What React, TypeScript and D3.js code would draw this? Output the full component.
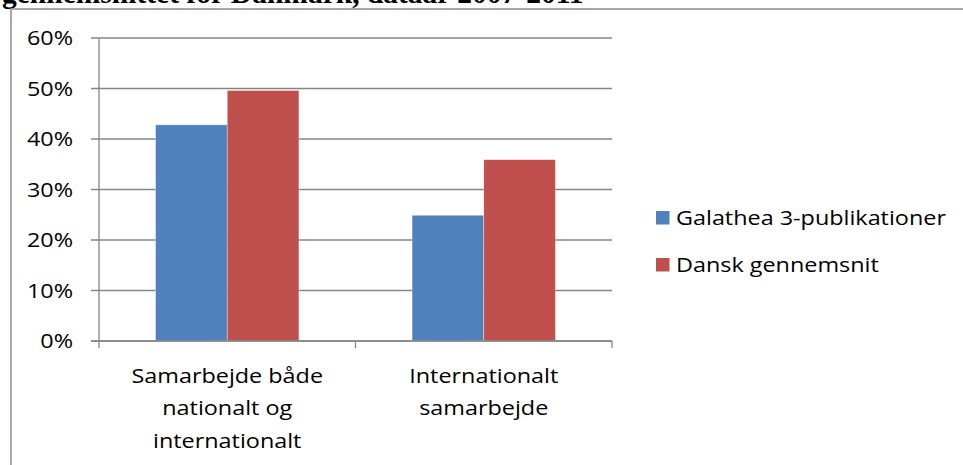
import { useEffect, useRef } from "react";
import * as d3 from "d3";

const WIDTH = 963;
const HEIGHT = 465;
const MARGIN = { top: 38, right: 351, bottom: 124, left: 99 };

const categories = [
  ["Samarbejde både", "nationalt og", "internationalt"],
  ["Internationalt", "samarbejde"],
];
const seriesNames = ["Galathea 3-publikationer", "Dansk gennemsnit"];
const galathea = [0.428, 0.249];
const danskSnit = [0.496, 0.359];
const yTicks = [0, 0.1, 0.2, 0.3, 0.4, 0.5, 0.6];
const colors = ["#4F81BD", "#C0504D"];
const title = "gennemsnittet for Danmark, dataår 2007-2011";

// the source image is a horizontally stretched Calibri, so text gets a scaleX
const FONT = "'Open Sans', sans-serif";
const FS = 19.5;
const SX = 1.2;

export default function App() {
  const ref = useRef<SVGSVGElement>(null);

  useEffect(() => {
    const svg = d3.select(ref.current);
    svg.selectAll("*").remove();

    const boundsWidth = WIDTH - MARGIN.left - MARGIN.right;
    const boundsHeight = HEIGHT - MARGIN.top - MARGIN.bottom;

    // outer frame and clipped title
    svg
      .append("text")
      .attr("x", 2)
      .attr("y", 3)
      .attr("font-family", "'Liberation Serif', serif")
      .attr("font-weight", "bold")
      .attr("font-size", 29.5)
      .text(title);
    svg
      .append("path")
      .attr("d", `M11,${HEIGHT} V9 H${WIDTH}`)
      .attr("fill", "none")
      .attr("stroke", "#8c8c8c")
      .attr("stroke-width", 1.5);

    const g = svg
      .append("g")
      .attr("transform", `translate(${MARGIN.left},${MARGIN.top})`);

    const idx = categories.map((_, i) => i);
    const x0 = d3.scaleBand<number>().domain(idx).range([0, boundsWidth]);
    const x1 = d3
      .scaleBand<number>()
      .domain([0, 1])
      .range([0, x0.bandwidth()])
      .paddingOuter(0.75 / 0.95)
      .paddingInner(0);
    const y = d3.scaleLinear().domain([0, 0.6]).range([boundsHeight, 0]);

    // gridlines
    g.selectAll(".grid")
      .data(yTicks)
      .join("line")
      .attr("x1", -8)
      .attr("x2", boundsWidth)
      .attr("y1", (d) => y(d))
      .attr("y2", (d) => y(d))
      .attr("stroke", "#868686")
      .attr("stroke-width", 1.3);

    g.selectAll(".ylab")
      .data(yTicks)
      .join("text")
      .attr("transform", (d) => `translate(-26,${y(d)}) scale(${SX},1)`)
      .attr("dy", "0.36em")
      .attr("text-anchor", "end")
      .attr("font-family", FONT)
      .attr("font-size", FS)
      .text((d) => d3.format(".0%")(d));

    // bars
    const series = [galathea, danskSnit];
    series.forEach((vals, s) => {
      g.selectAll(`.bar${s}`)
        .data(vals)
        .join("rect")
        .attr("x", (_, i) => (x0(i) ?? 0) + (x1(s) ?? 0))
        .attr("width", x1.bandwidth())
        .attr("y", (d) => y(d))
        .attr("height", (d) => boundsHeight - y(d))
        .attr("fill", colors[s])
        .attr("stroke", "#ffffff")
        .attr("stroke-opacity", 0.5)
        .attr("stroke-width", 0.7);
    });

    // y axis
    g.append("line")
      .attr("x1", 0)
      .attr("x2", 0)
      .attr("y1", 0)
      .attr("y2", boundsHeight)
      .attr("stroke", "#868686")
      .attr("stroke-width", 1.3);

    // x axis
    g.append("line")
      .attr("x1", -8)
      .attr("x2", boundsWidth)
      .attr("y1", boundsHeight)
      .attr("y2", boundsHeight)
      .attr("stroke", "#868686")
      .attr("stroke-width", 1.3);
    const xTicks = [0, ...idx.map((i) => (x0(i) ?? 0) + x0.bandwidth())];
    g.selectAll(".xtick")
      .data(xTicks)
      .join("line")
      .attr("x1", (d) => d)
      .attr("x2", (d) => d)
      .attr("y1", boundsHeight)
      .attr("y2", boundsHeight + 7)
      .attr("stroke", "#868686")
      .attr("stroke-width", 1.3);

    categories.forEach((lines, i) => {
      const cx = (x0(i) ?? 0) + x0.bandwidth() / 2;
      const t = g
        .append("text")
        .attr("transform", `translate(${cx},0) scale(${SX},1)`)
        .attr("text-anchor", "middle")
        .attr("font-family", FONT)
        .attr("font-size", FS);
      lines.forEach((line, j) => {
        t.append("tspan")
          .attr("x", 0)
          .attr("y", boundsHeight + 42 + j * 32.5)
          .text(line);
      });
    });

    // legend
    const legend = svg.append("g").attr("transform", "translate(656,211)");
    seriesNames.forEach((name, s) => {
      const row = legend.append("g").attr("transform", `translate(0,${s * 47})`);
      row.append("rect").attr("width", 13.5).attr("height", 13.5).attr("fill", colors[s]);
      row
        .append("text")
        .attr("transform", `translate(20,7) scale(${SX},1)`)
        .attr("dy", "0.36em")
        .attr("font-family", FONT)
        .attr("font-size", FS)
        .text(name);
    });
  }, []);

  return (
    <svg
      ref={ref}
      width={WIDTH}
      height={HEIGHT}
      style={{ position: "absolute", left: 0, top: 0, background: "#fff" }}
    />
  );
}
